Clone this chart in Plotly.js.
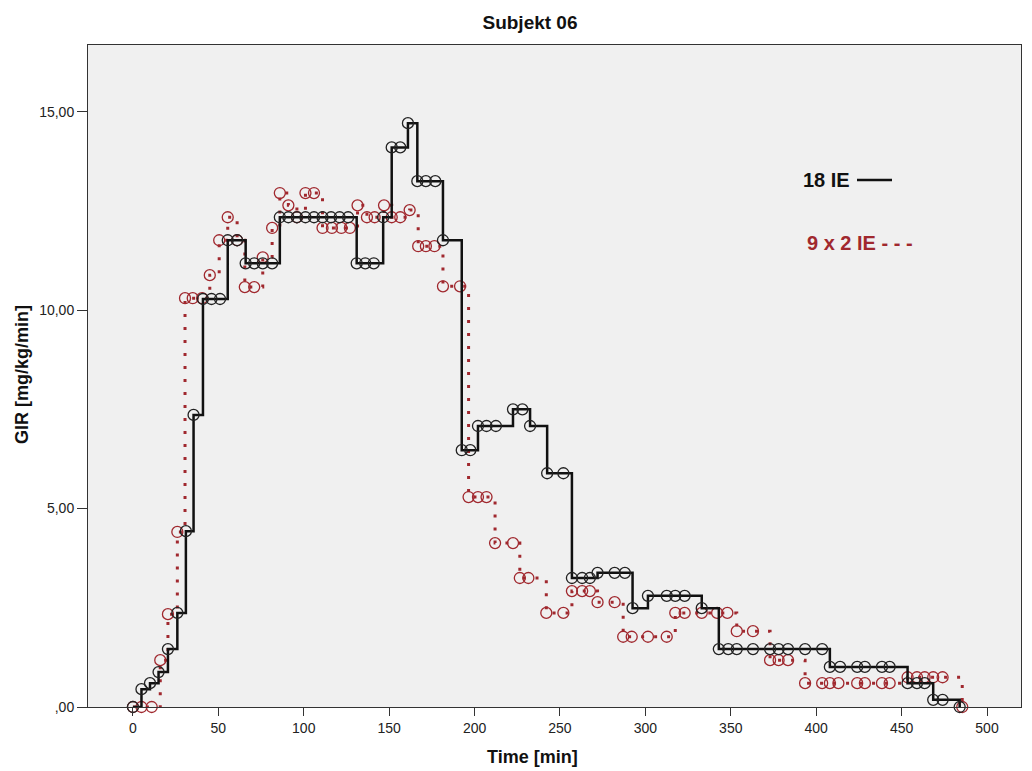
<!DOCTYPE html>
<html>
<head>
<meta charset="utf-8">
<script src="https://cdn.plot.ly/plotly-3.0.1.min.js"></script>
<style>html,body{margin:0;padding:0;background:#fff;}#chart{width:1032px;height:771px;}</style>
</head>
<body>
<div id="chart"></div>
<script>
// ---- Data ----
var time18 = [0,5,10,15,20.5,26,31,35.5,41,46,51,55.5,61,66,71,76,81.5,
  86,91,96,101,106,111,116,121,126,131,136,141,146.5,151.5,156.5,161,166.5,171.5,177,181.5,
  192.5,197.5,202,207,212.5,222.5,228,232.5,242.5,252,257,263,267.5,272,282,288,292.5,
  301.5,312.5,317.5,323,333,343,348.5,353.5,363,373,378,383.5,393.5,403.5,
  408,414,424,428.5,438.5,443,453.5,459,463.5,468.5,474,484];
var gir18 = [0,0.45,0.6,0.88,1.46,2.37,4.43,7.36,10.28,10.28,10.28,11.76,11.76,11.18,11.18,11.18,11.18,
  12.34,12.34,12.34,12.34,12.34,12.34,12.34,12.34,12.34,11.18,11.18,11.18,12.34,14.1,14.1,14.71,13.25,13.25,13.25,11.76,
  6.47,6.47,7.08,7.08,7.08,7.5,7.5,7.08,5.89,5.89,3.25,3.25,3.25,3.38,3.38,3.38,2.49,
  2.8,2.8,2.8,2.8,2.49,1.46,1.46,1.46,1.46,1.46,1.46,1.46,1.46,1.46,
  1.01,1.01,1.01,1.01,1.01,1.01,0.6,0.6,0.6,0.18,0.18,0];

var time9x2 = [0,5,11,16,20.5,26,30.5,35,40.5,45,50.5,55.5,61,65.5,71,76,81.5,
  86,91,96,101,106,111,116.5,122,127,131.5,137,141.5,147,151.5,156.5,162,167,171.5,176.5,181.5,
  191.5,196.5,202,207,212,222.5,226.5,231.5,242,252,257,263,267.5,272,282,287,292,
  301.5,312.5,317.5,323,333,342,348,353.5,363,373,378,383.5,393.5,403.5,
  408,413,424,428.5,438.5,443,453.5,459,463.5,468.5,474,485.5];
var gir9x2 = [0,0,0,1.18,2.34,4.41,10.3,10.3,10.3,10.88,11.76,12.34,11.76,10.58,10.58,11.33,12.07,
  12.95,12.64,12.34,12.95,12.95,12.07,12.07,12.07,12.07,12.64,12.34,12.34,12.64,12.34,12.34,12.52,11.61,11.61,11.61,10.6,
  10.6,5.29,5.29,5.29,4.13,4.13,3.25,3.25,2.37,2.37,2.92,2.92,2.92,2.64,2.64,1.77,1.77,
  1.77,1.77,2.37,2.37,2.37,2.37,2.37,1.91,1.91,1.18,1.18,1.18,0.6,0.6,
  0.6,0.6,0.6,0.6,0.6,0.6,0.75,0.75,0.75,0.75,0.75,0];

var xTicks = [0,50,100,150,200,250,300,350,400,450,500];
var yTickVals = [0,5,10,15];
var yTickText = [',00','5,00','10,00','15,00'];

var seriesNames = ['18 IE','9 x 2 IE'];
var chartTitle = 'Subjekt 06';
var xTitle = 'Time [min]';
var yTitle = 'GIR [mg/kg/min]';

// ---- Styles ----
var black = '#111111';
var red = '#A0282E';
var FONT = 'Liberation Sans, Arial, sans-serif';

var traces = [
  {
    x: time9x2, y: gir9x2, name: seriesNames[1], type: 'scatter', mode: 'lines+markers',
    line: {shape: 'hv', color: red, width: 3, dash: '3px,10px'},
    marker: {symbol: 'circle-open', size: 11, color: red, line: {width: 1.3, color: red}},
    cliponaxis: false
  },
  {
    x: time18, y: gir18, name: seriesNames[0], type: 'scatter', mode: 'lines+markers',
    line: {shape: 'hv', color: black, width: 2.5},
    marker: {symbol: 'circle-open', size: 11, color: '#222', line: {width: 1.3, color: '#222'}},
    cliponaxis: false
  }
];

var layout = {
  width: 1032, height: 771,
  margin: {l: 88, r: 11, t: 45, b: 64},
  paper_bgcolor: '#ffffff',
  plot_bgcolor: '#F0F0F0',
  showlegend: false,
  font: {family: FONT, size: 14, color: '#222'},
  title: {text: chartTitle, font: {family: FONT, size: 19, color: '#111', weight: 'bold'},
          x: 530/1032, xref: 'container', xanchor: 'center', y: 1 - 22/771, yref: 'container', yanchor: 'middle'},
  xaxis: {
    range: [-26.3, 519.9], tickvals: xTicks, ticks: 'outside', ticklen: 8, tickwidth: 1, tickcolor: '#333',
    showline: true, linecolor: '#333', linewidth: 1, mirror: true, showgrid: false, zeroline: false,
    tickfont: {family: FONT, size: 14, color: '#222'}
  },
  yaxis: {
    range: [0, 16.68], tickvals: yTickVals, ticktext: yTickText, ticks: 'outside', ticklen: 10, tickwidth: 1, tickcolor: '#333',
    showline: true, linecolor: '#333', linewidth: 1, mirror: true, showgrid: false, zeroline: false,
    tickfont: {family: FONT, size: 14, color: '#222'}
  },
  annotations: [
    {text: '<b>' + xTitle + '</b>', xref: 'paper', yref: 'paper', x: (532-88)/933, y: (707-757)/662,
     xanchor: 'center', yanchor: 'middle', showarrow: false, font: {family: FONT, size: 18, color: '#111'}},
    {text: '<b>' + yTitle + '</b>', xref: 'paper', yref: 'paper', x: (22-88)/933, y: (707-375)/662,
     xanchor: 'center', yanchor: 'middle', textangle: -90, showarrow: false, font: {family: FONT, size: 18, color: '#111'}},
    {text: '<b>' + seriesNames[0] + '</b>', xref: 'paper', yref: 'paper', x: (801-88)/933, y: (707-180)/662,
     xanchor: 'left', yanchor: 'middle', showarrow: false, font: {family: FONT, size: 20, color: '#111'}},
    {text: '<b>' + seriesNames[1] + ' - - -</b>', xref: 'paper', yref: 'paper', x: (805-88)/933, y: (707-243)/662,
     xanchor: 'left', yanchor: 'middle', showarrow: false, font: {family: FONT, size: 20, color: red}}
  ],
  shapes: [
    {type: 'line', xref: 'paper', yref: 'paper', x0: (857-88)/933, x1: (892-88)/933, y0: (707-180)/662, y1: (707-180)/662,
     line: {color: '#111', width: 2.5}}
  ]
};

Plotly.newPlot('chart', traces, layout, {displayModeBar: false, staticPlot: true});
</script>
</body>
</html>
